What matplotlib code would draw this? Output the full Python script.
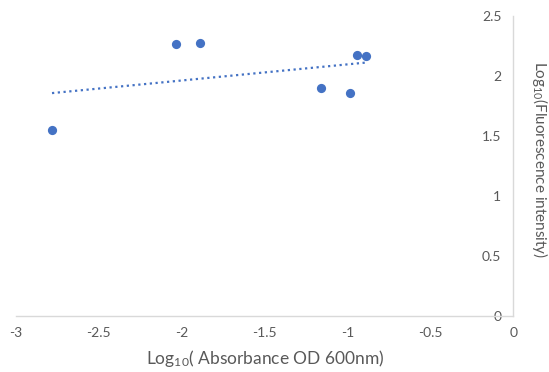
import numpy as np
import matplotlib.pyplot as plt

# log10 absorbance (x) and log10 fluorescence (y)
abs_log = [-2.78, -2.035, -1.89, -1.161, -0.984, -0.942, -0.888]
fluo_log = [1.55, 2.264, 2.275, 1.897, 1.858, 2.175, 2.164]

x_ticks = [-3, -2.5, -2, -1.5, -1, -0.5, 0]
y_ticks = [0, 0.5, 1, 1.5, 2, 2.5]

plt.rcParams['font.family'] = ['Lato', 'DejaVu Sans']
blue = '#4472C4'
grey = '#D9D9D9'
txt = '#595959'

fig = plt.figure(figsize=(5.49, 3.72), dpi=100)
ax = fig.add_axes([15.5 / 549, 1 - 316 / 372, (513.3 - 15.5) / 549, 300 / 372])

ax.scatter(abs_log, fluo_log, s=44, color=blue, zorder=3, linewidths=0)

# linear trendline (Excel style, dotted)
k, b = np.polyfit(abs_log, fluo_log, 1)
xt = np.array([min(abs_log), max(abs_log)])
ax.plot(xt, k * xt + b, color=blue, linestyle=(0, (1, 1.6)), linewidth=1.6)

ax.set_xlim(-3, 0)
ax.set_ylim(0, 2.5)
ax.set_xticks(x_ticks)
ax.set_xticklabels(['-3', '-2.5', '-2', '-1.5', '-1', '-0.5', '0'])
ax.set_yticks(y_ticks)
ax.set_yticklabels(['0', '0.5', '1', '1.5', '2', '2.5'])

# axes cross at x=0: y axis on the right, labels inside
ax.yaxis.set_ticks_position('right')
for lab in ax.get_yticklabels():
    lab.set_horizontalalignment('right')
ax.tick_params(axis='y', length=0, pad=-8.6, labelsize=10, colors=txt)
ax.tick_params(axis='x', length=0, pad=8, labelsize=10, colors=txt)

for s in ['top', 'left']:
    ax.spines[s].set_visible(False)
ax.spines['right'].set_color(grey)
ax.spines['bottom'].set_color(grey)
ax.spines['right'].set_linewidth(1.0)
ax.spines['bottom'].set_linewidth(1.0)

ax.set_xlabel(r'Log$\mathregular{_{10}}$( Absorbance OD 600nm)', fontsize=12.5,
              color=txt, va='center')
ax.xaxis.set_label_coords((265 - 15.5) / (513.3 - 15.5), -0.143)
ax.yaxis.set_label_position('right')
ax.set_ylabel(r'Log$\mathregular{_{10}}$(Fluorescence intensity)', fontsize=11,
              color=txt, rotation=270, va='center')
ax.yaxis.set_label_coords((540 - 15.5) / (513.3 - 15.5), 0.52)

fig.savefig('out.png', dpi=100)
